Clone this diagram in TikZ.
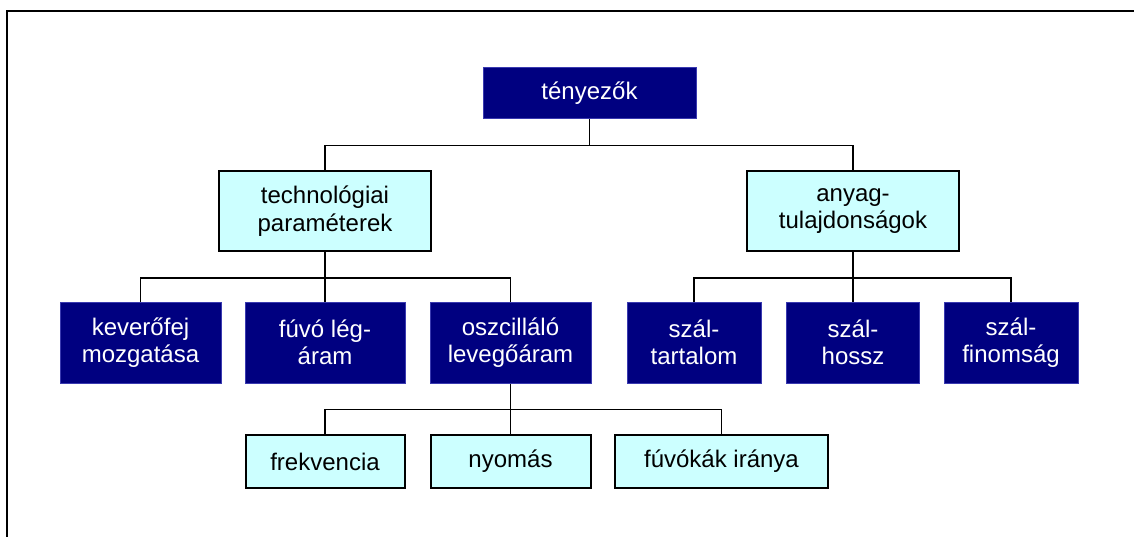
\documentclass[tikz,border=0pt]{standalone}
\usepackage{fontspec}
\setmainfont{Liberation Sans}
\definecolor{navybox}{HTML}{000080}
\definecolor{navyedge}{HTML}{3A3AB0}
\definecolor{cyanbox}{HTML}{CCFFFF}
\tikzset{
  base/.style={rectangle, inner sep=0pt, align=center, font=\fontsize{24}{27.5}\selectfont},
  dark/.style={base, fill=navybox, draw=navyedge, line width=1pt, text=white},
  light/.style={base, fill=cyanbox, draw=black, line width=2pt, text=black},
  conn/.style={draw=black, line width=1.6pt},
  frame/.style={draw=black, line width=2.2pt}
}
\begin{document}
\begin{tikzpicture}[x=1pt,y=-1pt]
\useasboundingbox (0,0) rectangle (1134,537);
\coordinate (fa) at (7,537);
\coordinate (fb) at (7,11);
\coordinate (fc) at (1134,11);
\draw[frame] (fa) -- (fb) -- (fc);

\node[dark, minimum width=213pt, minimum height=51pt] (ten) at (589.5,93.5) {tényezők};
\node[light, minimum width=212pt, minimum height=80pt] (tech) at (325,211) {technológiai\\paraméterek};
\node[light, minimum width=212pt, minimum height=80pt] (anyag) at (853,211) {anyag-\\tulajdonságok};

\node[dark, minimum width=161pt, minimum height=81pt] (kev) at (140.5,342.5) {keverőfej\\mozgatása};
\node[dark, minimum width=160pt, minimum height=81pt] (fuvo) at (325,342.5) {fúvó lég-\\áram};
\node[dark, minimum width=161pt, minimum height=81pt] (osz) at (510.5,342.5) {oszcilláló\\levegőáram};
\node[dark, minimum width=134pt, minimum height=81pt] (sza) at (694,342.5) {szál-\\tartalom};
\node[dark, minimum width=133pt, minimum height=81pt] (szb) at (853,342.5) {szál-\\hossz};
\node[dark, minimum width=134pt, minimum height=81pt] (szc) at (1011,342.5) {szál-\\finomság};

\node[light, minimum width=159pt, minimum height=53pt] (frek) at (325,461.5) {frekvencia};
\node[light, minimum width=160pt, minimum height=53pt] (nyom) at (510.5,461.5) {nyomás};
\node[light, minimum width=213pt, minimum height=53pt] (fuvok) at (721.5,461.5) {fúvókák iránya};

\draw[conn] (ten.south) -- ++(0,26) coordinate (j1);
\draw[conn] (tech.north) |- (j1) -| (anyag.north);

\draw[conn] (tech.south) -- ++(0,26) coordinate (j2);
\draw[conn] (kev.north) |- (j2) -| (osz.north);
\draw[conn] (j2) -- (fuvo.north);

\draw[conn] (anyag.south) -- ++(0,26) coordinate (j3);
\draw[conn] (sza.north) |- (j3) -| (szc.north);
\draw[conn] (j3) -- (szb.north);

\draw[conn] (osz.south) -- ++(0,26) coordinate (j4);
\draw[conn] (frek.north) |- (j4) -| (fuvok.north);
\draw[conn] (j4) -- (nyom.north);
\end{tikzpicture}
\end{document}
